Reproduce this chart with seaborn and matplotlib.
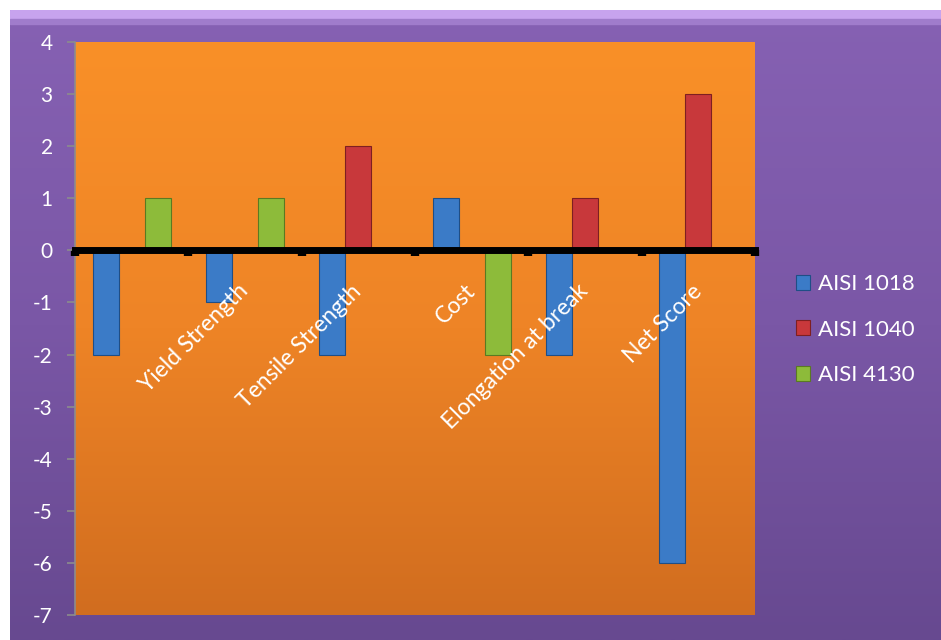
import numpy as np
import pandas as pd
import matplotlib
matplotlib.use("Agg")
import matplotlib.pyplot as plt
from matplotlib.colors import LinearSegmentedColormap
from matplotlib.patches import Patch
import seaborn as sns

# ---- data ----
categories = ["", "Yield Strength", "Tensile Strength", "Cost", "Elongation at break", "Net Score"]
series = ["AISI 1018", "AISI 1040", "AISI 4130"]
aisi_1018 = [-2, -1, -2, 1, -2, -6]
aisi_1040 = [0, 0, 2, 0, 1, 3]
aisi_4130 = [1, 1, 0, -2, 0, 0]
yticks = [-7, -6, -5, -4, -3, -2, -1, 0, 1, 2, 3, 4]

colors = ["#3B7BC7", "#C8383B", "#8DBB3A"]
edges = ["#1F4E86", "#7E1F21", "#5A7A22"]

rows = []
for name, vals in zip(series, [aisi_1018, aisi_1040, aisi_4130]):
    for i, v in enumerate(vals):
        rows.append({"idx": i, "series": name, "value": v})
df = pd.DataFrame(rows)

sns.set_theme(style="white")
plt.rcParams['font.family'] = ['Lato', 'DejaVu Sans']

W, H = 941, 640
fig = plt.figure(figsize=(W / 100, H / 100), dpi=100, facecolor="white")

# purple chart background
bg = fig.add_axes([10 / W, 0, 1 - 10 / W, 630 / H], zorder=0)
bg.set_axis_off()
grad = np.linspace(0, 1, 256).reshape(-1, 1)
pcmap = LinearSegmentedColormap.from_list("p", ["#8661B3", "#7A57A6", "#674990"])
bg.imshow(grad, aspect="auto", cmap=pcmap, extent=[0, 1, 0, 1], origin="upper")
bg.axhspan(0.985, 1.0, color="#C7A3EE", zorder=2)
bg.axhspan(0.978, 0.985, color="#A07CCB", zorder=2)
bg.set_xlim(0, 1)
bg.set_ylim(0, 1)

ax = fig.add_axes([75 / W, 25 / H, 680 / W, 573 / H], zorder=1)
ocmap = LinearSegmentedColormap.from_list("o", ["#F99028", "#EE8426", "#D16D1F"])
ax.imshow(grad, aspect="auto", cmap=ocmap, extent=[0, 1, 0, 1], origin="upper",
          transform=ax.transAxes, zorder=0)

sns.barplot(data=df, x="idx", y="value", hue="series", hue_order=series,
            palette=colors, saturation=1, width=0.69, ax=ax, zorder=2, legend=False)

for i, cont in enumerate(ax.containers):
    for bar in cont:
        bar.set_edgecolor(edges[i])
        bar.set_linewidth(0.8)

# spines first (set_position resets ticks)
for s in ["top", "right"]:
    ax.spines[s].set_visible(False)
ax.spines["left"].set_color("#8C8C8C")
ax.spines["left"].set_linewidth(1.2)
ax.spines["bottom"].set_position(("data", 0))
ax.spines["bottom"].set_color("black")
ax.spines["bottom"].set_linewidth(5)
ax.spines["bottom"].set_zorder(5)
ax.set_facecolor("none")

ax.set_axisbelow(False)
ax.set_xlim(-0.5, len(categories) - 0.5)
ax.set_ylim(-7, 4)
ax.set_yticks(yticks)
ax.set_yticklabels([str(t) for t in yticks], color="white", fontsize=15)
ax.tick_params(axis="y", left=True, length=6, width=1.2, color="#8C8C8C", pad=10)
ax.set_xlabel("")
ax.set_ylabel("")

ax.set_xticks(np.arange(-0.5, len(categories), 1.0), minor=True)
ax.set_xticks(range(len(categories)))
ax.set_xticklabels(categories, rotation=45, ha="right", va="center",
                   rotation_mode="anchor", color="white", fontsize=16.5)
ax.tick_params(axis="x", which="major", length=0, pad=27)
ax.tick_params(axis="x", which="minor", bottom=True, length=4, width=6, color="black", direction="out")

handles = [Patch(facecolor=c, edgecolor=e, linewidth=0.8) for c, e in zip(colors, edges)]
leg = fig.legend(handles, series, loc="upper left", bbox_to_anchor=(776 / W, 1 - 254 / H),
                 frameon=False, fontsize=16, labelcolor="white", handlelength=0.65,
                 handleheight=0.65, handletextpad=0.35, labelspacing=1.15)

fig.savefig("out.png", dpi=100, facecolor="white")
